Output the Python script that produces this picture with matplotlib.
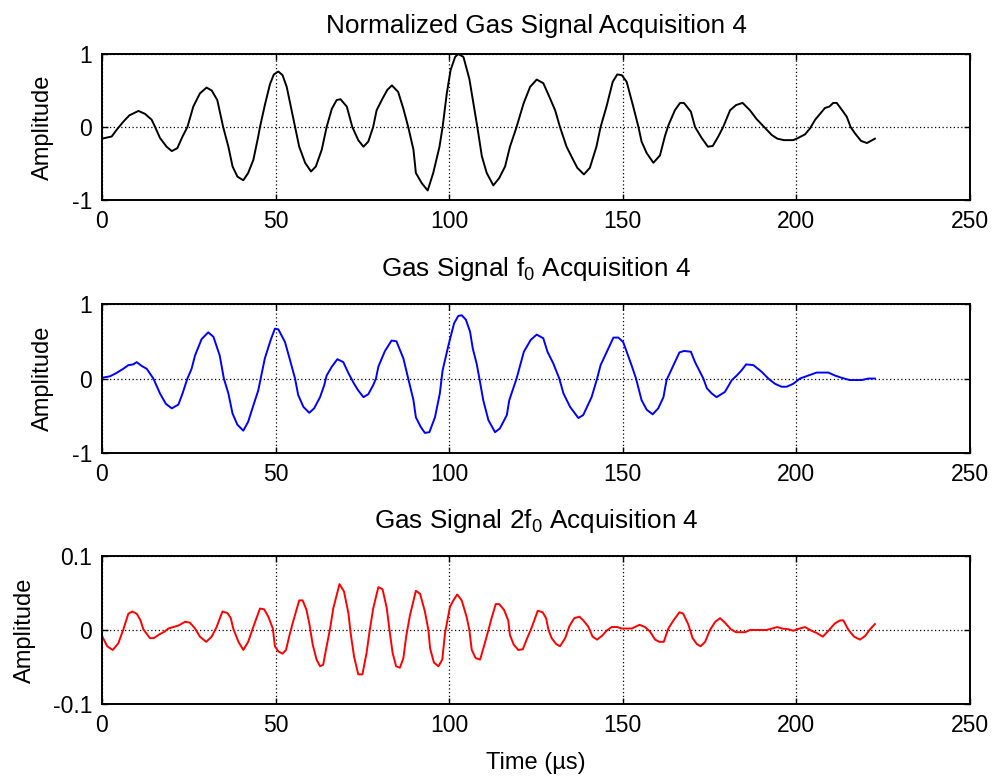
import matplotlib
matplotlib.use("Agg")
import matplotlib.pyplot as plt

plt.rcParams['font.family'] = ['Liberation Sans', 'DejaVu Sans']
plt.rcParams['mathtext.fontset'] = 'custom'
plt.rcParams['mathtext.rm'] = 'Liberation Sans'
plt.rcParams['mathtext.default'] = 'regular'
plt.rcParams['axes.unicode_minus'] = False

# normalized gas signal (black)
t_norm = [0.0, 2.8, 4.2, 6.1, 7.9, 10.5, 12.4, 14.3, 15.3, 16.7, 18.6, 20.1, 21.7, 23.2, 24.6,
          26.3, 28.2, 30.1, 31.6, 33.2, 34.9, 36.4, 37.6, 39.0, 40.7, 42.1, 43.6, 45.0, 45.5,
          47.0, 48.4, 49.5, 50.8, 52.0, 53.2, 54.6, 55.6, 56.8, 58.5, 60.2, 61.6, 63.3, 64.7,
          66.2, 67.6, 68.7, 70.5, 72.1, 73.8, 75.3, 76.7, 78.1, 79.1, 80.8, 82.2, 83.5, 85.3,
          86.8, 88.2, 89.7, 90.4, 92.1, 93.8, 95.4, 97.2, 98.1, 99.3, 100.4, 101.7, 102.6,
          104.1, 105.8, 107.0, 108.1, 109.4, 110.8, 112.7, 114.4, 116.1, 117.5, 119.4, 121.4,
          123.3, 125.2, 127.1, 128.6, 130.5, 131.9, 133.8, 135.7, 136.9, 138.8, 140.5, 142.4,
          143.6, 145.3, 147.1, 148.4, 149.7, 151.1, 153.0, 154.5, 155.4, 156.9, 158.8, 160.7,
          162.1, 163.1, 165.0, 166.5, 167.6, 169.6, 170.8, 172.7, 174.5, 175.9, 177.5, 178.9,
          180.9, 182.6, 184.5, 186.6, 188.5, 190.7, 192.9, 194.5, 196.4, 199.1, 200.5, 202.5,
          203.9, 205.4, 206.8, 208.2, 209.5, 210.6, 211.6, 213.0, 214.5, 215.6, 216.9, 218.6,
          220.3, 222.6]
v_norm = [-0.16, -0.13, -0.04, 0.07, 0.16, 0.22, 0.18, 0.10, 0.0, -0.15, -0.27, -0.33, -0.29,
          -0.13, 0.0, 0.28, 0.46, 0.54, 0.50, 0.37, 0.0, -0.27, -0.54, -0.68, -0.73, -0.63,
          -0.45, -0.13, 0.0, 0.32, 0.59, 0.72, 0.76, 0.71, 0.55, 0.23, 0.0, -0.27, -0.49,
          -0.61, -0.54, -0.31, 0.0, 0.25, 0.37, 0.38, 0.28, 0.0, -0.18, -0.27, -0.20, 0.0,
          0.23, 0.39, 0.51, 0.57, 0.48, 0.25, 0.0, -0.31, -0.63, -0.77, -0.87, -0.63, -0.27,
          0.0, 0.46, 0.78, 0.96, 1.0, 0.96, 0.66, 0.32, 0.0, -0.40, -0.63, -0.80, -0.70,
          -0.54, -0.27, 0.0, 0.32, 0.55, 0.65, 0.60, 0.44, 0.23, 0.0, -0.27, -0.45, -0.56,
          -0.65, -0.56, -0.27, 0.0, 0.28, 0.62, 0.72, 0.71, 0.62, 0.28, 0.0, -0.20, -0.36,
          -0.49, -0.39, -0.13, 0.02, 0.23, 0.33, 0.33, 0.21, 0.0, -0.15, -0.27, -0.26, -0.13,
          0.0, 0.23, 0.30, 0.33, 0.23, 0.11, 0.0, -0.11, -0.16, -0.18, -0.18, -0.15, -0.10,
          -0.02, 0.10, 0.18, 0.26, 0.28, 0.33, 0.33, 0.24, 0.14, 0.0, -0.09, -0.19, -0.22,
          -0.16]

# f0 component (blue)
t_f0 = [0.0, 2.3, 4.0, 6.1, 7.6, 9.0, 10.0, 11.4, 12.9, 14.8, 16.7, 18.4, 20.1, 22.0, 23.2,
        24.6, 25.8, 26.8, 28.7, 30.6, 32.1, 33.9, 35.1, 36.4, 37.6, 39.0, 40.7, 42.1, 43.6,
        45.0, 45.7, 46.9, 48.6, 49.8, 50.8, 52.7, 53.9, 55.6, 56.5, 58.0, 59.7, 61.1, 62.8,
        64.0, 64.7, 66.2, 67.8, 69.5, 71.0, 72.6, 73.8, 75.3, 76.7, 78.1, 78.9, 79.6, 81.5,
        83.4, 84.8, 86.8, 88.2, 89.7, 90.4, 91.8, 93.0, 94.3, 95.9, 97.3, 98.1, 99.8, 101.4,
        102.6, 103.6, 104.8, 106.0, 106.8, 107.9, 108.7, 109.8, 111.3, 113.2, 114.6, 116.6,
        117.3, 119.4, 121.5, 123.5, 125.2, 127.1, 128.3, 130.0, 131.7, 132.9, 134.8, 137.2,
        138.6, 141.0, 142.6, 143.6, 145.8, 147.3, 148.7, 150.1, 151.1, 152.5, 153.8, 154.7,
        155.4, 156.9, 158.6, 160.2, 161.7, 162.6, 164.6, 166.3, 167.6, 169.6, 170.8, 173.2,
        174.2, 175.6, 177.0, 179.4, 181.4, 182.8, 184.2, 185.5, 187.6, 190.0, 191.9, 193.8,
        195.7, 197.2, 199.1, 201.0, 203.4, 205.8, 209.2, 211.1, 213.0, 215.3, 218.8, 220.7,
        222.6]
v_f0 = [0.01, 0.03, 0.07, 0.13, 0.18, 0.19, 0.22, 0.17, 0.13, 0.0, -0.20, -0.34, -0.40,
        -0.35, -0.20, 0.0, 0.13, 0.31, 0.53, 0.62, 0.56, 0.31, 0.0, -0.20, -0.47, -0.62,
        -0.70, -0.58, -0.36, -0.16, 0.0, 0.27, 0.52, 0.67, 0.66, 0.49, 0.29, 0.0, -0.22,
        -0.38, -0.46, -0.40, -0.25, -0.09, 0.04, 0.16, 0.26, 0.22, 0.07, -0.07, -0.16,
        -0.25, -0.21, -0.09, 0.0, 0.16, 0.37, 0.51, 0.50, 0.27, 0.0, -0.29, -0.52, -0.65,
        -0.73, -0.72, -0.52, -0.20, 0.11, 0.45, 0.74, 0.84, 0.85, 0.79, 0.63, 0.40, 0.20,
        0.0, -0.29, -0.56, -0.72, -0.67, -0.49, -0.29, 0.0, 0.36, 0.52, 0.59, 0.54, 0.36,
        0.20, 0.0, -0.20, -0.38, -0.53, -0.49, -0.25, 0.0, 0.18, 0.40, 0.55, 0.55, 0.49,
        0.36, 0.18, 0.0, -0.16, -0.29, -0.42, -0.48, -0.40, -0.25, -0.02, 0.18, 0.35,
        0.37, 0.36, 0.22, 0.0, -0.13, -0.20, -0.25, -0.18, -0.02, 0.04, 0.11, 0.19, 0.18,
        0.09, 0.0, -0.07, -0.11, -0.11, -0.07, 0.0, 0.04, 0.08, 0.08, 0.04, 0.01, -0.02,
        -0.02, 0.0, 0.0]

# 2f0 component (red)
t_2f0 = [0.0, 1.5, 3.1, 4.7, 6.1, 7.6, 8.7, 10.0, 11.1, 11.9, 13.8, 14.9, 16.5, 18.1, 19.1,
         20.5, 22.0, 23.9, 25.3, 26.8, 28.2, 30.0, 31.6, 33.0, 34.7, 36.1, 37.1, 37.8, 39.3,
         40.7, 42.1, 43.8, 45.5, 46.7, 47.9, 49.2, 49.8, 50.8, 52.0, 53.0, 53.9, 54.9, 56.8,
         57.8, 58.9, 59.7, 60.7, 61.8, 62.8, 63.7, 64.7, 65.7, 66.6, 68.4, 69.7, 71.0, 71.6,
         72.6, 73.8, 75.0, 76.2, 77.0, 78.1, 79.6, 80.8, 82.0, 82.8, 83.7, 84.7, 85.8, 86.8,
         87.6, 88.7, 90.4, 91.6, 93.0, 94.0, 94.5, 95.6, 96.9, 98.0, 98.8, 100.2, 101.2,
         102.3, 103.6, 105.0, 105.8, 106.5, 107.6, 108.9, 110.0, 111.3, 112.2, 113.4, 114.4,
         115.8, 117.0, 117.5, 118.6, 119.9, 121.2, 122.3, 123.8, 125.5, 126.9, 127.9, 128.6,
         129.5, 130.8, 131.9, 133.4, 134.6, 136.0, 137.5, 138.6, 140.0, 141.3, 142.6, 144.2,
         145.3, 146.8, 148.4, 149.7, 152.6, 154.8, 156.4, 157.8, 159.3, 160.5, 161.8, 163.1,
         164.6, 166.3, 167.4, 168.9, 170.1, 171.3, 172.4, 173.7, 175.1, 176.6, 178.0, 179.4,
         181.1, 182.6, 185.2, 186.6, 191.4, 192.9, 194.5, 195.8, 197.7, 199.1, 200.9, 202.5,
         203.9, 205.8, 207.6, 209.2, 211.1, 212.6, 213.5, 215.0, 216.6, 218.3, 219.8, 221.2,
         222.6]
v_2f0 = [-0.008, -0.022, -0.027, -0.018, 0.0, 0.022, 0.025, 0.022, 0.013, 0.001, -0.011,
         -0.011, -0.006, -0.002, 0.002, 0.004, 0.006, 0.011, 0.010, 0.002, -0.009, -0.016,
         -0.009, 0.004, 0.025, 0.023, 0.016, 0.002, -0.016, -0.027, -0.016, 0.007, 0.029,
         0.028, 0.018, 0.002, -0.022, -0.029, -0.032, -0.027, -0.009, 0.009, 0.040, 0.040,
         0.027, 0.009, -0.020, -0.040, -0.049, -0.047, -0.022, 0.002, 0.029, 0.062, 0.052,
         0.022, -0.004, -0.036, -0.060, -0.060, -0.031, -0.004, 0.029, 0.058, 0.055, 0.030,
         0.0, -0.031, -0.049, -0.051, -0.038, -0.009, 0.020, 0.053, 0.049, 0.025, 0.0,
         -0.025, -0.044, -0.049, -0.040, -0.004, 0.031, 0.040, 0.048, 0.040, 0.018, 0.0,
         -0.027, -0.038, -0.040, -0.022, 0.0, 0.016, 0.035, 0.035, 0.027, 0.013, -0.007,
         -0.020, -0.027, -0.026, -0.013, 0.004, 0.026, 0.024, 0.016, 0.0, -0.011, -0.019,
         -0.022, -0.011, 0.005, 0.016, 0.018, 0.013, 0.005, -0.009, -0.013, -0.007, -0.001,
         0.004, 0.004, 0.002, 0.002, 0.007, 0.004, -0.002, -0.013, -0.016, -0.016, 0.002,
         0.013, 0.024, 0.022, 0.007, -0.011, -0.019, -0.022, -0.016, 0.0, 0.011, 0.016,
         0.010, 0.001, -0.003, -0.003, 0.0, 0.0, 0.002, 0.004, 0.002, 0.001, -0.001, 0.002,
         0.004, 0.0, -0.004, -0.009, -0.001, 0.009, 0.013, 0.013, 0.0, -0.009, -0.013,
         -0.008, 0.001, 0.008]

titles = ['Normalized Gas Signal Acquisition 4',
          'Gas Signal f$_0$ Acquisition 4',
          'Gas Signal 2f$_0$ Acquisition 4']
x_ticks = [0, 50, 100, 150, 200, 250]
y_ticks = [[-1, 0, 1], [-1, 0, 1], [-0.1, 0, 0.1]]
y_ticklabels = [['-1', '0', '1'], ['-1', '0', '1'], ['-0.1', '0', '0.1']]

series = [(t_norm, v_norm, 'black'), (t_f0, v_f0, 'blue'), (t_2f0, v_2f0, 'red')]
boxes = [[0.1026, 0.7423, 0.8733, 0.1881],
         [0.1026, 0.4162, 0.8733, 0.1920],
         [0.1026, 0.0928, 0.8733, 0.1907]]
ylabel_x = [-0.055, -0.055, -0.076]
title_pad = [15, 20, 20]

fig = plt.figure(figsize=(9.94, 7.76), dpi=100)
for i, (t, v, c) in enumerate(series):
    ax = fig.add_axes(boxes[i])
    ax.plot(t, v, color=c, lw=1.4)
    ax.set_xlim(0, 250)
    lim = y_ticks[i]
    ax.set_ylim(lim[0], lim[-1])
    ax.set_xticks(x_ticks)
    ax.set_yticks(lim)
    ax.set_yticklabels(y_ticklabels[i])
    ax.grid(True, color='black', linestyle=(0, (1, 2)), linewidth=0.9)
    ax.tick_params(direction='in', length=4, labelsize=16.5, pad=7, top=True, right=True,
                   width=1)
    for s in ax.spines.values():
        s.set_linewidth(1.4)
    ax.set_title(titles[i], fontsize=18.8, pad=title_pad[i])
    ax.set_ylabel('Amplitude', fontsize=17)
    ax.yaxis.set_label_coords(ylabel_x[i], 0.5)
    if i == 2:
        ax.set_xlabel('Time (µs)', fontsize=17, labelpad=11)

fig.savefig('out.png', dpi=100)
